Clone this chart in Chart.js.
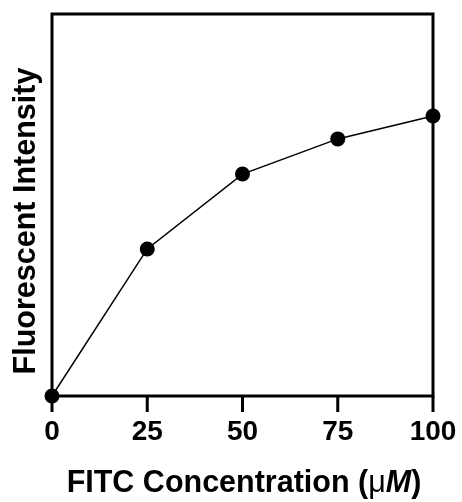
<!DOCTYPE html>
<html>
<head>
<meta charset="utf-8">
<script src="https://cdn.jsdelivr.net/npm/chart.js@4"></script>
<style>
  html, body { margin: 0; padding: 0; background: #fff; }
  #wrap { width: 462px; height: 502px; }
</style>
</head>
<body>
<div id="wrap"><canvas id="myChart" width="462" height="502"></canvas></div>
<script>
const concentrations = [0, 25, 50, 75, 100];
const intensities = [0, 38.5, 58.1, 67.3, 73.3];
const xTicks = [0, 25, 50, 75, 100];
const xTitleParts = ["FITC Concentration (", "μ", "M", ")"];
const yTitle = "Fluorescent Intensity";

document.addEventListener("DOMContentLoaded", () => {
  const ctx = document.getElementById("myChart").getContext("2d");
  const FONT = "'Liberation Sans', Arial, sans-serif";

  // frame, tick marks and axis titles, drawn under the points
  const decor = {
    id: "decor",
    beforeDatasetsDraw(chart) {
      const a = chart.chartArea;
      const c = chart.ctx;
      const xs = chart.scales.x;
      c.save();
      c.strokeStyle = "#000";
      c.lineWidth = 3;
      c.strokeRect(a.left, a.top, a.right - a.left, a.bottom - a.top);
      c.beginPath();
      xTicks.forEach(v => {
        const px = xs.getPixelForValue(v);
        c.moveTo(px, a.bottom);
        c.lineTo(px, a.bottom + 16);
      });
      c.stroke();

      c.fillStyle = "#000";
      // y title
      c.save();
      c.translate(35, 221);
      c.rotate(-Math.PI / 2);
      c.font = "bold 30.5px " + FONT;
      c.textAlign = "center";
      c.textBaseline = "alphabetic";
      c.fillText(yTitle, 0, 0);
      c.restore();

      // x title, with the unit in its own styles
      const fonts = ["bold 30.5px " + FONT, "30.5px " + FONT, "italic bold 30.5px " + FONT, "bold 30.5px " + FONT];
      let widths = xTitleParts.map((t, i) => { c.font = fonts[i]; return c.measureText(t).width; });
      let total = widths.reduce((s, w) => s + w, 0);
      let x = 244 - total / 2;
      c.textAlign = "left";
      c.textBaseline = "alphabetic";
      xTitleParts.forEach((t, i) => {
        c.font = fonts[i];
        c.fillText(t, x, 492);
        x += widths[i];
      });
      c.restore();
    }
  };

  let chartData = {
    datasets: [{
      data: concentrations.map((x, i) => ({ x: x, y: intensities[i] })),
      borderColor: "#000",
      backgroundColor: "#000",
      borderWidth: 1.5,
      pointRadius: 7.5,
      pointHoverRadius: 7.5,
      pointBackgroundColor: "#000",
      pointBorderWidth: 0,
      clip: false
    }]
  };

  let chartOption = {
    responsive: false,
    animation: false,
    layout: { padding: { top: 14, right: 29, left: 0, bottom: 0 } },
    plugins: { legend: { display: false }, tooltip: { enabled: false } },
    scales: {
      x: {
        type: "linear",
        min: 0,
        max: 100,
        afterBuildTicks: (s) => { s.ticks = xTicks.map(v => ({ value: v })); },
        afterFit: (s) => { s.height = 106; },
        grid: { display: false, drawTicks: true, tickLength: 16 },
        border: { display: false },
        ticks: { color: "#000", padding: 3, maxRotation: 0, font: { family: FONT, weight: "bold", size: 28 } }
      },
      y: {
        type: "linear",
        min: 0,
        max: 100,
        afterFit: (s) => { s.width = 52; },
        grid: { display: false },
        border: { display: false },
        ticks: { display: false }
      }
    }
  };

  new Chart(ctx, {
    type: "line",
    data: chartData,
    options: chartOption,
    plugins: [decor]
  });
});
</script>
</body>
</html>
